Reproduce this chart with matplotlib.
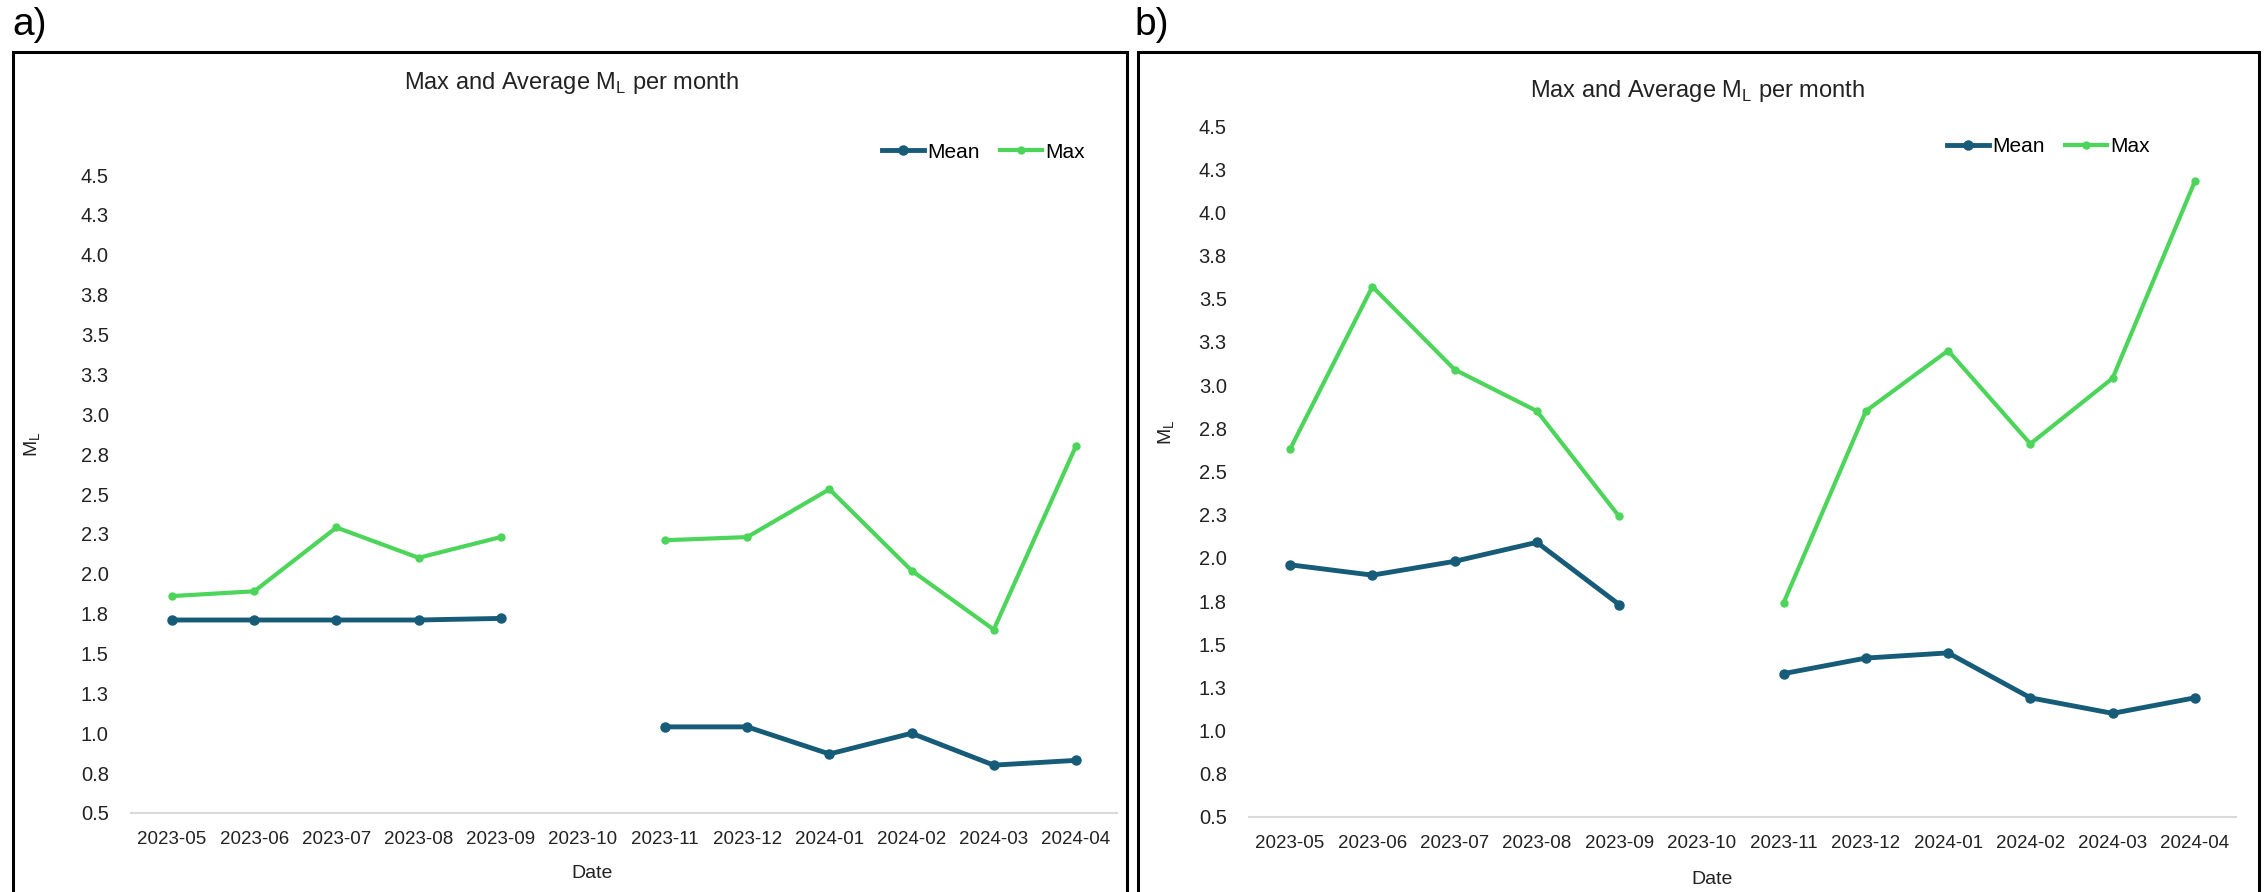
import numpy as np
import matplotlib
matplotlib.use("Agg")
import matplotlib.pyplot as plt
from matplotlib import font_manager
from matplotlib.patches import Rectangle

# datos
fechas = ["2023-05", "2023-06", "2023-07", "2023-08", "2023-09", "2023-10",
          "2023-11", "2023-12", "2024-01", "2024-02", "2024-03", "2024-04"]

media_a = [1.71, 1.71, 1.71, 1.71, 1.72, np.nan, 1.04, 1.04, 0.87, 1.00, 0.80, 0.83]
max_a = [1.86, 1.89, 2.29, 2.10, 2.23, np.nan, 2.21, 2.23, 2.53, 2.02, 1.65, 2.80]

media_b = [1.96, 1.90, 1.98, 2.09, 1.73, np.nan, 1.33, 1.42, 1.45, 1.19, 1.10, 1.19]
max_b = [2.63, 3.57, 3.09, 2.85, 2.24, np.nan, 1.74, 2.85, 3.20, 2.66, 3.04, 4.18]

yticks = [0.5, 0.75, 1.0, 1.25, 1.5, 1.75, 2.0, 2.25, 2.5, 2.75, 3.0,
          3.25, 3.5, 3.75, 4.0, 4.25, 4.5]
ytick_labels = ["0.5", "0.8", "1.0", "1.3", "1.5", "1.8", "2.0", "2.3", "2.5",
                "2.8", "3.0", "3.3", "3.5", "3.8", "4.0", "4.3", "4.5"]

col_media = "#165B77"
col_max = "#4CD55A"

# fuente estrecha para titulo y leyenda si existe
nombres = {f.name for f in font_manager.fontManager.ttflist}
estrecha = "Liberation Sans Narrow" if "Liberation Sans Narrow" in nombres else "Liberation Sans"
plt.rcParams["font.family"] = ["Liberation Sans", "DejaVu Sans"]

W, H = 2264, 892
fig = plt.figure(figsize=(W / 100, H / 100), dpi=100)


def fx(px):
    return px / W


def fy(py):
    return 1 - py / H


paneles = [
    dict(letra="a)", letra_x=12, caja=(13, 1127), ejes=(131, 1117, 175, 813),
         media=media_a, maxi=max_a, titulo=(571, 83), leyenda=(882, 152),
         ylab=(33, 444), date=(592, 874)),
    dict(letra="b)", letra_x=1134, caja=(1138, 2259), ejes=(1249, 2236, 126, 817),
         media=media_b, maxi=max_b, titulo=(1697, 91), leyenda=(1947, 147),
         ylab=(1167, 432), date=(1712, 880)),
]

x = np.arange(len(fechas))

for p in paneles:
    x0, x1, y0, y1 = p["ejes"]
    ax = fig.add_axes([fx(x0), fy(y1), fx(x1 - x0), (y1 - y0) / H])
    ax.plot(x, p["media"], color=col_media, lw=3.5, marker="o", ms=6.5, label="Mean")
    ax.plot(x, p["maxi"], color=col_max, lw=3, marker="o", ms=5, label="Max")
    ax.set_xlim(-0.5, len(fechas) - 0.5)
    ax.set_ylim(0.5, 4.5)
    ax.set_yticks(yticks)
    ax.set_yticklabels(ytick_labels, fontsize=14.5, color="#222222")
    ax.set_xticks(x)
    ax.set_xticklabels(fechas, fontsize=13.5, color="#222222")
    ax.tick_params(axis="y", length=0, pad=16)
    ax.tick_params(axis="x", length=0, pad=13)
    for s in ["top", "right", "left"]:
        ax.spines[s].set_visible(False)
    ax.spines["bottom"].set_color("#D9D9D9")
    ax.spines["bottom"].set_linewidth(1.5)
    ax.patch.set_alpha(0)

    ax.legend(loc="center left", bbox_to_anchor=(fx(p["leyenda"][0]), fy(p["leyenda"][1])),
              bbox_transform=fig.transFigure, ncol=2, frameon=False,
              borderpad=0, borderaxespad=0, handlelength=2.0, handletextpad=0.15,
              columnspacing=1.0, prop={"family": estrecha, "size": 15})

    tx, ty = p["titulo"]
    fig.text(fx(tx), fy(ty), r"Max and Average M$_\mathregular{L}$ per month",
             ha="center", va="center", fontsize=17, family=estrecha, color="#222222")
    lx, ly = p["ylab"]
    fig.text(fx(lx), fy(ly), r"M$_\mathregular{L}$", rotation=90, ha="center",
             va="center", fontsize=14, color="#222222")
    dx, dy = p["date"]
    fig.text(fx(dx), fy(dy), "Date", ha="center", va="center", fontsize=14, color="#222222")

    # marco del panel
    c0, c1 = p["caja"]
    fig.patches.append(Rectangle((fx(c0), -0.1), fx(c1 - c0), fy(52) + 0.1,
                                 transform=fig.transFigure, fill=False,
                                 edgecolor="black", lw=2.2, zorder=0))
    fig.text(fx(p["letra_x"]), fy(25), p["letra"], ha="left", va="center", fontsize=28)

fig.savefig("out.png", dpi=100)
